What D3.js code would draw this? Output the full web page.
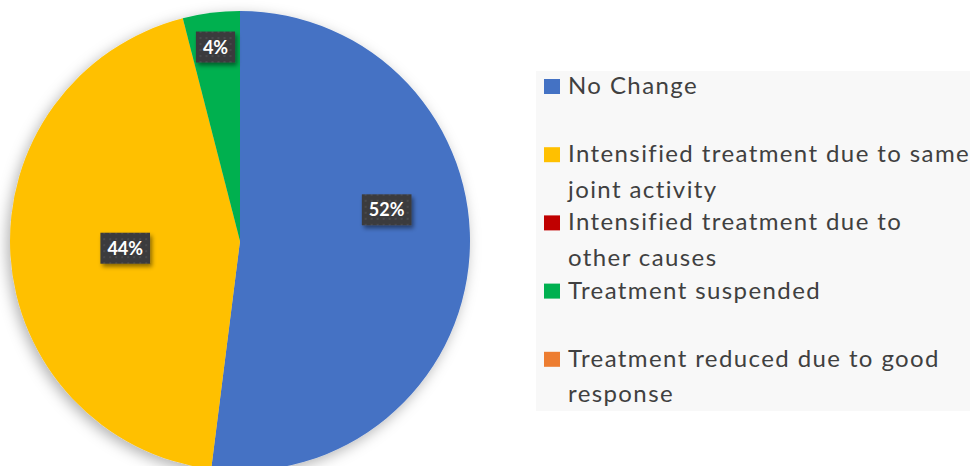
<!DOCTYPE html>
<html>
<head>
<meta charset="utf-8">
<script src="https://cdn.jsdelivr.net/npm/d3@7"></script>
<style>
  body { margin: 0; background: #fff; }
  svg { display: block; }
</style>
</head>
<body>
<div id="chart"></div>
<script>
// categories and their shares (%)
var categories = ['No Change', 'Intensified treatment due to same joint activity',
  'Intensified treatment due to other causes', 'Treatment suspended',
  'Treatment reduced due to good response'];
var values = [52, 44, 0, 4, 0];
var legendLines = [
  ['No Change'],
  ['Intensified treatment due to same', 'joint activity'],
  ['Intensified treatment due to', 'other causes'],
  ['Treatment suspended'],
  ['Treatment reduced due to good', 'response']
];
var colors = ['#4472C4', '#FFC000', '#C00000', '#00B050', '#ED7D31'];

// label placement (Excel "best fit" look): radius fraction, angle shift in degrees
var labelRadius = [0.652, 0.5, 0.5, 0.85, 0.5];
var labelShift = [-15.6, 0, 0, 0, 0];

var W = 970, H = 466, cx = 240, cy = 241, R = 230;

var svg = d3.select('#chart').append('svg').attr('width', W).attr('height', H);
var defs = svg.append('defs');

var sh = defs.append('filter').attr('id', 'pieShadow')
  .attr('x', '-20%').attr('y', '-20%').attr('width', '140%').attr('height', '140%');
sh.append('feDropShadow').attr('dx', -3).attr('dy', 4).attr('stdDeviation', 7)
  .attr('flood-color', '#000').attr('flood-opacity', 0.3);

var bsh = defs.append('filter').attr('id', 'boxShadow')
  .attr('x', '-30%').attr('y', '-30%').attr('width', '170%').attr('height', '170%');
bsh.append('feDropShadow').attr('dx', 2).attr('dy', 3).attr('stdDeviation', 2)
  .attr('flood-color', '#000').attr('flood-opacity', 0.45);

var pat = defs.append('pattern').attr('id', 'dots').attr('patternUnits', 'userSpaceOnUse')
  .attr('width', 6).attr('height', 6);
pat.append('rect').attr('width', 6).attr('height', 6).attr('fill', '#3b3b3d');
pat.append('circle').attr('cx', 3).attr('cy', 3).attr('r', 0.8).attr('fill', '#5a5a5e');

// legend background
svg.append('rect').attr('x', 536).attr('y', 71).attr('width', W - 536).attr('height', 340)
  .attr('fill', '#f8f8f8');

var pie = d3.pie().sort(null).value(function(d){ return d; });
var arcs = pie(values);
var arc = d3.arc().innerRadius(0).outerRadius(R);

var g = svg.append('g').attr('transform', 'translate(' + cx + ',' + cy + ')');
g.append('g').attr('filter', 'url(#pieShadow)')
  .selectAll('path').data(arcs).enter().append('path')
  .attr('d', arc)
  .attr('fill', function(d, i){ return colors[i]; });

// data labels
var lab = g.selectAll('g.lab').data(arcs.filter(function(d){ return d.value > 0; }))
  .enter().append('g').attr('class', 'lab')
  .attr('transform', function(d){
    var i = d.index;
    var a = (d.startAngle + d.endAngle) / 2 + labelShift[i] * Math.PI / 180;
    var r = R * labelRadius[i];
    return 'translate(' + (r * Math.sin(a)) + ',' + (-r * Math.cos(a)) + ')';
  });
var boxes = lab.append('rect').attr('fill', 'url(#dots)').attr('filter', 'url(#boxShadow)');
var texts = lab.append('text')
  .attr('text-anchor', 'middle').attr('dy', '0.36em')
  .style('font-family', 'Lato, "Open Sans", sans-serif')
  .style('font-weight', 'bold').style('font-size', '18px')
  .attr('fill', '#fff')
  .text(function(d){ return d.value + '%'; });
texts.each(function(d){
  var w = this.getComputedTextLength() + 14;
  d3.select(this.parentNode).select('rect')
    .attr('x', -w / 2).attr('y', -15.5).attr('width', w).attr('height', 31);
});

// legend
var legend = svg.append('g');
var item = legend.selectAll('g').data(categories).enter().append('g')
  .attr('transform', function(d, i){ return 'translate(544,' + (94 + i * 68.2) + ')'; });
item.append('rect').attr('x', 0).attr('y', -15).attr('width', 16).attr('height', 15)
  .attr('fill', function(d, i){ return colors[i]; });
item.each(function(d, i){
  var t = d3.select(this).append('text')
    .style('font-family', 'Lato, "Open Sans", sans-serif')
    .style('font-size', '24px').style('letter-spacing', '1.4px').attr('fill', '#404040');
  legendLines[i].forEach(function(line, j){
    t.append('tspan').attr('x', 24).attr('y', j * 35.5).text(line);
  });
});
</script>
</body>
</html>
